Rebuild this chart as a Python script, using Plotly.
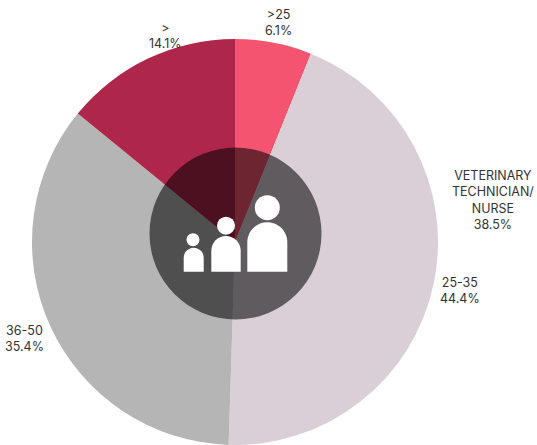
import plotly.graph_objects as go

W, H = 537, 445

categories = [">25", "25-35", "36-50", ">"]
values = [6.1, 44.4, 35.4, 14.1]
slice_colors = ["#f55470", "#dacfd6", "#b5b5b5", "#ae2649"]

label_texts = [">25<br>6.1%", "25-35<br>44.4%", "36-50<br>35.4%", "><br>14.1%",
               "VETERINARY<br>TECHNICIAN/<br>NURSE<br>38.5%"]
label_pos = [(278, 23), (459.5, 290), (24, 338.5), (165, 36), (493, 199.5)]


def fx(x):
    return x / W


def fy(y):
    return 1 - y / H


def circle(cx, cy, r, fill):
    return dict(type="circle", xref="paper", yref="paper",
                x0=fx(cx - r), x1=fx(cx + r), y0=fy(cy + r), y1=fy(cy - r),
                fillcolor=fill, line_width=0, layer="above")


def body(x0, x1, top, bottom):
    r = (x1 - x0) / 2
    k = 0.5523 * r
    xm = (x0 + x1) / 2
    ys = top + r
    pts = (f"M {fx(x0)} {fy(bottom)} L {fx(x0)} {fy(ys)} "
           f"C {fx(x0)} {fy(ys - k)} {fx(xm - k)} {fy(top)} {fx(xm)} {fy(top)} "
           f"C {fx(xm + k)} {fy(top)} {fx(x1)} {fy(ys - k)} {fx(x1)} {fy(ys)} "
           f"L {fx(x1)} {fy(bottom)} Z")
    return dict(type="path", xref="paper", yref="paper", path=pts,
                fillcolor="white", line_width=0, layer="above")


fig = go.Figure(go.Pie(
    labels=categories, values=values, sort=False, direction="clockwise",
    rotation=0, textinfo="none", hoverinfo="label+percent",
    marker=dict(colors=slice_colors, line=dict(width=0)),
    domain=dict(x=[fx(32), fx(438)], y=[fy(445), fy(39)]),
    showlegend=False,
))

shapes = [
    circle(235.5, 233.5, 86, "rgba(0,0,0,0.56)"),
    circle(267.3, 207.7, 12.5, "white"),
    body(247.3, 287.3, 222.3, 271.7),
    circle(226, 225.7, 9, "white"),
    body(211.3, 240.7, 236, 271.7),
    circle(193, 239.7, 6.5, "white"),
    body(183.7, 203.7, 247.7, 271.7),
]

annotations = [
    dict(text=t, x=fx(p[0]), y=fy(p[1]), xref="paper", yref="paper",
         showarrow=False, align="center", xanchor="center", yanchor="middle",
         font=dict(family="Inter, sans-serif", size=12.5, color="#333333"))
    for t, p in zip(label_texts, label_pos)
]

fig.update_layout(
    width=W, height=H, margin=dict(l=0, r=0, t=0, b=0),
    paper_bgcolor="white", plot_bgcolor="white",
    shapes=shapes, annotations=annotations,
)

fig.write_html("out.html", config=dict(displayModeBar=False),
               post_script="document.body.style.margin='0';")
